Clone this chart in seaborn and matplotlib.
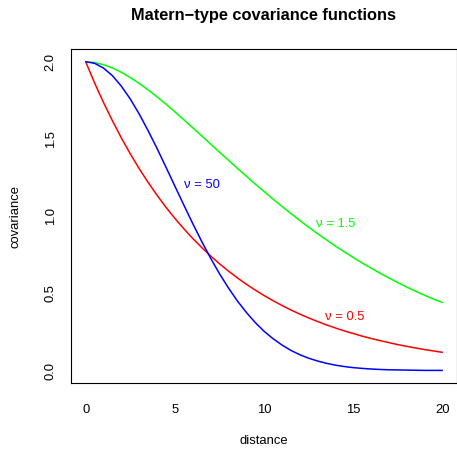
import matplotlib
matplotlib.use("Agg")
import matplotlib.pyplot as plt
import numpy as np
import pandas as pd
import seaborn as sns

# ── data (covariance vs distance, step 0.5) ─────────────────────────────────
DISTANCE = [0.0, 0.5, 1.0, 1.5, 2.0, 2.5, 3.0, 3.5, 4.0, 4.5, 5.0, 5.5, 6.0, 6.5,
            7.0, 7.5, 8.0, 8.5, 9.0, 9.5, 10.0, 10.5, 11.0, 11.5, 12.0, 12.5,
            13.0, 13.5, 14.0, 14.5, 15.0, 15.5, 16.0, 16.5, 17.0, 17.5, 18.0,
            18.5, 19.0, 19.5, 20.0]

COV_NU05 = [2.000, 1.863, 1.736, 1.618, 1.507, 1.404, 1.308, 1.219, 1.136, 1.058,
            0.986, 0.919, 0.856, 0.798, 0.743, 0.692, 0.645, 0.601, 0.560, 0.522,
            0.486, 0.453, 0.422, 0.393, 0.366, 0.341, 0.318, 0.296, 0.276, 0.257,
            0.240, 0.223, 0.208, 0.194, 0.181, 0.168, 0.157, 0.146, 0.136, 0.127,
            0.118]

COV_NU15 = [2.000, 1.995, 1.981, 1.960, 1.932, 1.898, 1.860, 1.818, 1.773, 1.726,
            1.676, 1.625, 1.573, 1.521, 1.468, 1.415, 1.363, 1.311, 1.260, 1.209,
            1.160, 1.111, 1.064, 1.018, 0.973, 0.929, 0.887, 0.847, 0.807, 0.769,
            0.733, 0.697, 0.664, 0.631, 0.600, 0.570, 0.541, 0.514, 0.488, 0.463,
            0.441]

COV_NU50 = [2.000, 1.990, 1.959, 1.910, 1.842, 1.759, 1.662, 1.554, 1.439, 1.318,
            1.195, 1.073, 0.953, 0.838, 0.729, 0.628, 0.536, 0.452, 0.378, 0.312,
            0.255, 0.207, 0.166, 0.131, 0.103, 0.080, 0.062, 0.047, 0.035, 0.026,
            0.019, 0.014, 0.010, 0.007, 0.005, 0.004, 0.003, 0.002, 0.001, 0.001,
            0.001]

SERIES = ["nu=0.5", "nu=1.5", "nu=50"]
COLORS = {"nu=0.5": "#FF0000", "nu=1.5": "#00FF00", "nu=50": "#0000FF"}

LABELS = ["\u03bd = 0.5", "\u03bd = 1.5", "\u03bd = 50"]
LABEL_X = [14.5, 14.0, 6.5]
LABEL_Y = [0.35, 0.95, 1.20]

X_TICKS = [0, 5, 10, 15, 20]
Y_TICKS = [0.0, 0.5, 1.0, 1.5, 2.0]

# ── long table for seaborn ──────────────────────────────────────────────────
df = pd.DataFrame({
    "distance": DISTANCE * 3,
    "covariance": COV_NU05 + COV_NU15 + COV_NU50,
    "model": [SERIES[0]] * len(DISTANCE) + [SERIES[1]] * len(DISTANCE)
             + [SERIES[2]] * len(DISTANCE),
})

sns.set_style("white")
plt.rcParams["font.family"] = ["Liberation Sans", "DejaVu Sans"]
plt.rcParams["text.color"] = "black"

FS = 9.4          # axis / annotation text
FS_TITLE = 11.8   # bold title

W, H = 457, 450
fig = plt.figure(figsize=(W / 100, H / 100), dpi=100)
# plot box in pixels: left 71.4, right 456.6, top 49.4, bottom 382.9
ax = fig.add_axes([71.4 / W, 1 - 382.9 / H, 385.2 / W, 333.5 / H])

sns.lineplot(data=df, x="distance", y="covariance", hue="model",
             palette=COLORS, linewidth=1.1, legend=False, ax=ax)

for lab, lx, ly, key in zip(LABELS, LABEL_X, LABEL_Y, SERIES):
    ax.text(lx, ly, lab, color=COLORS[key], fontsize=FS,
            ha="center", va="center")

ax.set_xlim(-0.8, 20.8)
ax.set_ylim(-0.08, 2.08)
ax.set_xticks(X_TICKS)
ax.set_xticklabels([str(t) for t in X_TICKS])
ax.set_yticks(Y_TICKS)
ax.set_yticklabels([f"{t:.1f}" for t in Y_TICKS])
ax.set_xlabel("")
ax.set_ylabel("")

for s in ax.spines.values():
    s.set_visible(True)
    s.set_color("black")
    s.set_linewidth(0.8)

ax.tick_params(axis="both", which="major", direction="out", length=5.5,
               width=0.8, color="black", labelsize=FS, labelcolor="black")
ax.tick_params(axis="x", pad=9.5)
ax.tick_params(axis="y", pad=5.0, labelrotation=90)
for t in ax.get_yticklabels():
    t.set_va("center")

fig.text(263.5 / W, 1 - 20 / H, "Matern\u2212type covariance functions",
         ha="center", va="baseline", fontsize=FS_TITLE, fontweight="bold")
fig.text(263.5 / W, 1 - 444 / H, "distance", ha="center", va="baseline",
         fontsize=FS)
fig.text(15.5 / W, 1 - 216 / H, "covariance", ha="center", va="center",
         rotation=90, fontsize=FS)

fig.savefig("out.png", dpi=100)
